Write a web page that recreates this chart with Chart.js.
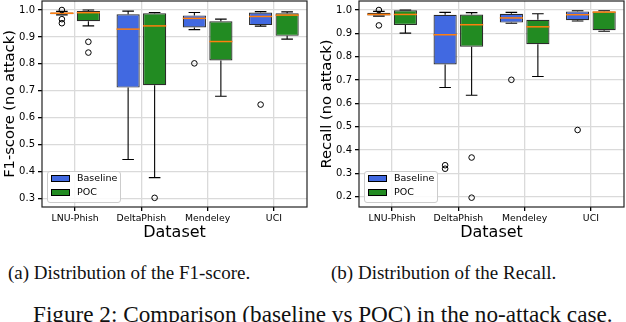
<!DOCTYPE html>
<html>
<head>
<meta charset="utf-8">
<script src="https://cdn.jsdelivr.net/npm/chart.js@4.4.1/dist/chart.umd.min.js"></script>
<style>
  html, body { margin:0; padding:0; background:#fff; }
  #wrap { position:relative; width:626px; height:322px; overflow:hidden; background:#fff; }
  canvas { position:absolute; top:0; }
  .cap { position:absolute; font-family:"Liberation Serif", "Times New Roman", serif; color:#111; white-space:nowrap; }
  .sub { font-size:19px; line-height:19px; }
  .main { font-size:23.2px; line-height:23.2px; }
</style>
</head>
<body>
<div id="wrap">
  <canvas id="c1" width="313" height="250" style="left:0px"></canvas>
  <canvas id="c2" width="309" height="250" style="left:317px"></canvas>
  <div class="cap sub" style="left:8px; top:263px;">(a) Distribution of the F1-score.</div>
  <div class="cap sub" style="left:331px; top:263px;">(b) Distribution of the Recall.</div>
  <div class="cap main" style="left:33px; top:303px;">Figure 2: Comparison (baseline vs POC) in the no-attack case.</div>
</div>
<script>
// ---------- DATA ----------
const categories = ['LNU-Phish', 'DeltaPhish', 'Mendeley', 'UCI'];
const seriesNames = ['Baseline', 'POC'];

// F1-score (no attack)
const f1TickValues = [0.3, 0.4, 0.5, 0.6, 0.7, 0.8, 0.9, 1.0];
const f1BaseQ1  = [0.984, 0.712, 0.935, 0.944];
const f1BaseMed = [0.988, 0.929, 0.969, 0.976];
const f1BaseQ3  = [0.991, 0.984, 0.980, 0.991];
const f1BaseLo  = [0.982, 0.445, 0.927, 0.940];
const f1BaseHi  = [0.995, 0.996, 0.991, 0.994];
const f1BaseOut = [[1.0, 0.966, 0.951], [], [0.802], [0.649]];
const f1PocQ1   = [0.958, 0.721, 0.813, 0.904];
const f1PocMed  = [0.990, 0.941, 0.883, 0.981];
const f1PocQ3   = [0.996, 0.988, 0.958, 0.988];
const f1PocLo   = [0.941, 0.378, 0.680, 0.892];
const f1PocHi   = [1.0, 0.991, 0.966, 0.993];
const f1PocOut  = [[0.882, 0.842], [0.303], [], []];

// Recall (no attack)
const recTickValues = [0.2, 0.3, 0.4, 0.5, 0.6, 0.7, 0.8, 0.9, 1.0];
const recBaseQ1  = [0.977, 0.767, 0.946, 0.956];
const recBaseMed = [0.981, 0.894, 0.966, 0.980];
const recBaseQ3  = [0.988, 0.980, 0.984, 0.994];
const recBaseLo  = [0.974, 0.668, 0.943, 0.953];
const recBaseHi  = [0.994, 0.990, 0.990, 0.997];
const recBaseOut = [[1.0, 0.934], [0.335, 0.320], [0.701], [0.486]];
const recPocQ1   = [0.936, 0.843, 0.853, 0.913];
const recPocMed  = [0.981, 0.937, 0.928, 0.991];
const recPocQ3   = [0.999, 0.981, 0.958, 0.994];
const recPocLo   = [0.901, 0.635, 0.715, 0.909];
const recPocHi   = [1.0, 0.989, 0.984, 0.997];
const recPocOut  = [[], [0.368, 0.196], [], []];

// ---------- STYLE ----------
const COLORS = ['#4169e1', '#228b22'];
const EDGE = '#2b2b2b';
const MEDIAN = '#ff7f0e';
const GRID = '#dadada';
const TICKFONT = 'DejaVu Sans';

function mkDataset(i, q1, q3, med, lo, hi, out) {
  return {
    label: seriesNames[i],
    data: q1.map((v, k) => [v, q3[k]]),
    backgroundColor: COLORS[i],
    borderColor: EDGE,
    borderWidth: 1.2,
    borderSkipped: false,
    categoryPercentage: 0.8,
    barPercentage: 0.875,
    box: { med, lo, hi, out }
  };
}

const boxPlugin = {
  id: 'boxParts',
  afterDatasetsDraw(chart) {
    const ctx = chart.ctx;
    const y = chart.scales.y;
    chart.data.datasets.forEach((ds, di) => {
      const meta = chart.getDatasetMeta(di);
      meta.data.forEach((bar, k) => {
        const cx = bar.x, w = bar.width;
        const q1 = ds.data[k][0], q3 = ds.data[k][1];
        const b = ds.box;
        ctx.save();
        ctx.strokeStyle = '#000';
        ctx.lineWidth = 1.1;
        ctx.beginPath();
        ctx.moveTo(cx, y.getPixelForValue(q3));
        ctx.lineTo(cx, y.getPixelForValue(b.hi[k]));
        ctx.moveTo(cx, y.getPixelForValue(q1));
        ctx.lineTo(cx, y.getPixelForValue(b.lo[k]));
        ctx.moveTo(cx - w / 4, y.getPixelForValue(b.hi[k]));
        ctx.lineTo(cx + w / 4, y.getPixelForValue(b.hi[k]));
        ctx.moveTo(cx - w / 4, y.getPixelForValue(b.lo[k]));
        ctx.lineTo(cx + w / 4, y.getPixelForValue(b.lo[k]));
        ctx.stroke();
        ctx.strokeStyle = MEDIAN;
        ctx.lineWidth = 1.5;
        ctx.beginPath();
        ctx.moveTo(cx - w / 2, y.getPixelForValue(b.med[k]));
        ctx.lineTo(cx + w / 2, y.getPixelForValue(b.med[k]));
        ctx.stroke();
        ctx.strokeStyle = '#000';
        ctx.lineWidth = 1;
        b.out[k].forEach(v => {
          ctx.beginPath();
          ctx.arc(cx, y.getPixelForValue(v), 2.8, 0, Math.PI * 2);
          ctx.stroke();
        });
        ctx.restore();
      });
    });
  },
  afterDraw(chart) {
    const ctx = chart.ctx;
    const ca = chart.chartArea;
    ctx.save();
    ctx.strokeStyle = '#222';
    ctx.lineWidth = 1.2;
    ctx.strokeRect(ca.left, ca.top, ca.right - ca.left, ca.bottom - ca.top);
    const fx = ca.left + 5.5, fy = ca.bottom - 35.5, fw = 73, fh = 31;
    ctx.fillStyle = 'rgba(255,255,255,0.85)';
    ctx.strokeStyle = '#cccccc';
    ctx.lineWidth = 1;
    ctx.beginPath();
    ctx.roundRect(fx, fy, fw, fh, 2.5);
    ctx.fill();
    ctx.stroke();
    chart.data.datasets.forEach((ds, i) => {
      const cy = ca.bottom - 28.5 + i * 14;
      ctx.fillStyle = ds.backgroundColor;
      ctx.fillRect(ca.left + 9.5, cy - 3, 18, 6);
      ctx.strokeStyle = '#000';
      ctx.lineWidth = 1;
      ctx.strokeRect(ca.left + 9.5, cy - 3, 18, 6);
      ctx.fillStyle = '#000';
      ctx.font = '9.5px "DejaVu Sans"';
      ctx.textBaseline = 'middle';
      ctx.textAlign = 'left';
      ctx.fillText(ds.label, ca.left + 35, cy);
    });
    ctx.restore();
  }
};

function makeChart(id, yTitle, ymin, ymax, tickVals, datasets, padRight) {
  return new Chart(document.getElementById(id), {
    type: 'bar',
    data: { labels: categories, datasets },
    options: {
      responsive: false,
      animation: false,
      devicePixelRatio: 1,
      layout: { padding: { left: 0, right: padRight, top: 1, bottom: 0 } },
      plugins: { legend: { display: false }, tooltip: { enabled: false } },
      scales: {
        x: {
          grid: { offset: false, color: GRID, lineWidth: 1.3, tickColor: '#000', tickLength: 4 },
          border: { display: false },
          ticks: { color: '#000', font: { family: TICKFONT, size: 9.3 }, padding: 2, maxRotation: 0 },
          title: { display: true, text: 'Dataset', color: '#000', font: { family: TICKFONT, size: 16 }, padding: { top: 0, bottom: 8 } },
          afterFit(s) { s.height = 43; s.paddingLeft = 0; s.paddingRight = 0; }
        },
        y: {
          min: ymin, max: ymax,
          grid: { color: GRID, lineWidth: 1.3, tickColor: '#000', tickLength: 4 },
          border: { display: false },
          ticks: { color: '#000', font: { family: TICKFONT, size: 10 }, padding: 3,
                   callback: v => v.toFixed(1) },
          afterBuildTicks(s) { s.ticks = tickVals.map(v => ({ value: v })); },
          title: { display: true, text: yTitle, color: '#000', font: { family: TICKFONT, size: 14.7 }, padding: { top: 1, bottom: 0 } },
          afterFit(s) { s.width = 42; s.paddingTop = 0; s.paddingBottom = 0; }
        }
      }
    },
    plugins: [boxPlugin]
  });
}

makeChart('c1', 'F1-score (no attack)', 0.269, 1.0334, f1TickValues, [
  mkDataset(0, f1BaseQ1, f1BaseQ3, f1BaseMed, f1BaseLo, f1BaseHi, f1BaseOut),
  mkDataset(1, f1PocQ1, f1PocQ3, f1PocMed, f1PocLo, f1PocHi, f1PocOut)
], 6);

makeChart('c2', 'Recall (no attack)', 0.156, 1.0386, recTickValues, [
  mkDataset(0, recBaseQ1, recBaseQ3, recBaseMed, recBaseLo, recBaseHi, recBaseOut),
  mkDataset(1, recPocQ1, recPocQ3, recPocMed, recPocLo, recPocHi, recPocOut)
], 2);
</script>
</body>
</html>
